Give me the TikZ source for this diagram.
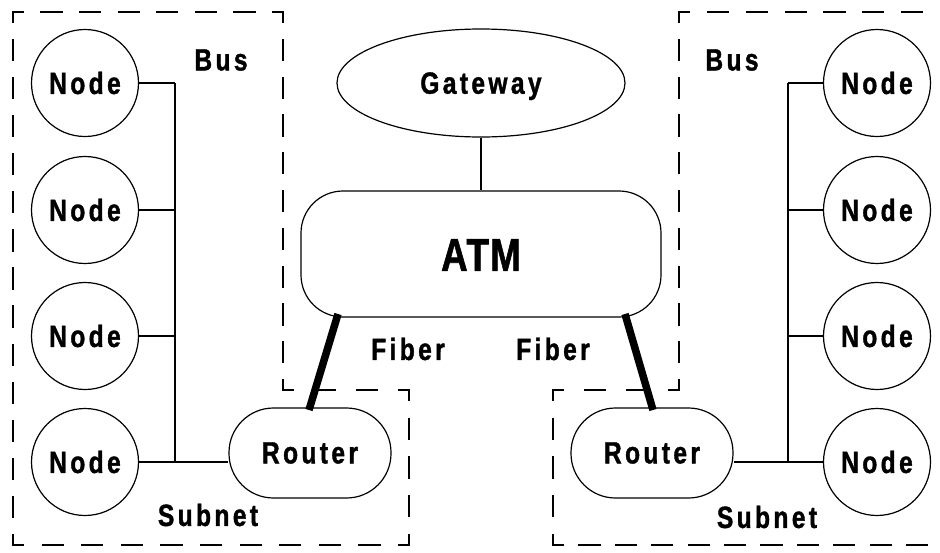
\documentclass[tikz,border=0pt]{standalone}
\usepackage{fontspec}
\usetikzlibrary{shapes.geometric}
\newfontfamily\lblfont{Liberation Sans}[FakeStretch=0.8,LetterSpace=11,FakeBold=1.2]
\tikzset{
  lbl/.style={font=\lblfont\bfseries\fontsize{30.7}{36}\selectfont, inner sep=0pt},
  hostnode/.style={lbl, circle, draw, line width=1.2pt, minimum size=107pt},
  router/.style={lbl, rectangle, draw, line width=1.2pt, rounded corners=44.5pt,
                 minimum width=162pt, minimum height=90pt},
  bus/.style={line width=2pt},
  fiber/.style={line width=7.5pt},
  zone/.style={line width=2.2pt, line cap=rect},
}
% one side of a dashed zone outline: half dashes at both corners,
% gaps stretched so that the side is filled evenly
\newcommand\zoneedge[4]{%
  \pgfmathsetmacro\zlen{veclen(#3-#1,#4-#2)}%
  \pgfmathsetmacro\zn{max(0,round((\zlen-38)/38))}%
  \pgfmathsetmacro\zoff{(\zlen-22-22*\zn)/(\zn+1)+2}%
  \draw[zone, dash pattern=on 20pt off \zoff pt, dash phase=10pt] (#1,#2) -- (#3,#4);%
}
\begin{document}
\begin{tikzpicture}[x=1pt,y=-1pt]
\clip (0,0) rectangle (940,552);
\fill[white] (0,0) rectangle (940,552);

% subnet boundaries
\zoneedge{13}{12}{283}{12}
\zoneedge{283}{12}{283}{390}
\zoneedge{283}{390}{409}{390}
\zoneedge{409}{390}{409}{545}
\zoneedge{13}{545}{409}{545}
\zoneedge{13}{12}{13}{545}
\zoneedge{553}{390}{679}{390}
\zoneedge{679}{12}{679}{390}
\zoneedge{679}{12}{990}{12}
\zoneedge{553}{545}{990}{545}
\zoneedge{553}{390}{553}{545}

% core
\node[lbl, ellipse, draw, line width=1.2pt, minimum width=288pt, minimum height=108pt,
      text depth=0pt] (gw) at (481,83) {Gateway};
\node[rectangle, draw, line width=1.2pt, rounded corners=42pt, minimum width=360pt,
      minimum height=126pt] (atm) at (481,254) {};
\node[lbl, font=\lblfont\bfseries\addfontfeature{LetterSpace=3}\fontsize{46}{50}\selectfont]
      (atmtxt) at (481,255) {ATM};
\draw[line width=1.6pt] (gw.south) -- (atm.north);

% routers
\node[router] (rL) at (310,453) {Router};
\node[router] (rR) at (652,453) {Router};

% hosts on both buses
\foreach \i/\y in {1/83,2/210,3/336,4/462}{
  \node[hostnode] (nL\i) at (85,\y) {Node};
  \node[hostnode] (nR\i) at (877,\y) {Node};
}
\coordinate (busLtop) at (175,83);
\coordinate (busLbot) at (175,462);
\coordinate (busRtop) at (788,83);
\coordinate (busRbot) at (788,462);
\draw[bus] (busLtop) -- (busLbot);
\draw[bus] (busRtop) -- (busRbot);
\foreach \i in {1,2,3,4}{
  \draw[bus] (nL\i.east) -- (nL\i.east -| busLtop);
  \draw[bus] (nR\i.west) -- (nR\i.west -| busRtop);
}
\draw[bus] (busLbot) -- (busLbot -| rL.west);
\draw[bus] (busRbot) -- (busRbot -| rR.east);

% fiber links
\coordinate (fLa) at (338,314);
\coordinate (fLb) at (309,410);
\coordinate (fRa) at (625,314);
\coordinate (fRb) at (653,410);
\draw[fiber] (fLa) -- (fLb);
\draw[fiber] (fRa) -- (fRb);

% labels
\node[lbl] (busL) at (221,60) {Bus};
\node[lbl] (busR) at (732,60) {Bus};
\node[lbl] (fibL) at (408,349) {Fiber};
\node[lbl] (fibR) at (553,349) {Fiber};
\node[lbl] (subL) at (208,515) {Subnet};
\node[lbl] (subR) at (767,517) {Subnet};
\end{tikzpicture}
\end{document}
